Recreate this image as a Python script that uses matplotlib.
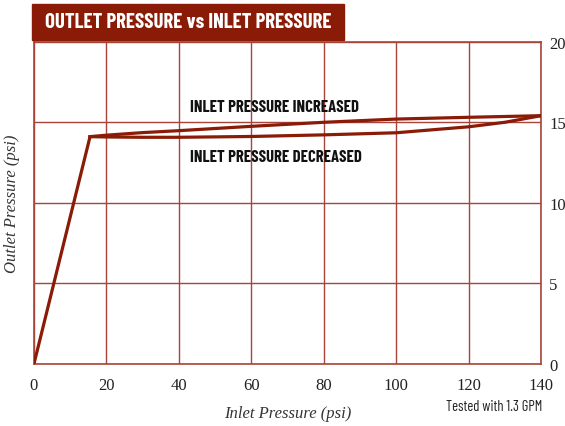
import numpy as np
import matplotlib.pyplot as plt
from matplotlib.patches import Rectangle

# data
rise_x = [0, 15.5]
rise_y = [0, 14.11]
inc_x = [15.5, 20, 30, 40, 60, 80, 100, 120, 140]
inc_y = [14.11, 14.2, 14.36, 14.48, 14.75, 15.0, 15.2, 15.31, 15.41]
dec_x = [140, 130, 120, 100, 80, 60, 40, 30, 20, 15.5]
dec_y = [15.41, 15.0, 14.72, 14.35, 14.22, 14.12, 14.07, 14.07, 14.09, 14.11]
x_ticks = [0, 20, 40, 60, 80, 100, 120, 140]
y_ticks = [0, 5, 10, 15, 20]

red = '#8a1b07'
grid_c = '#a8443a'
serif = ['Liberation Serif', 'DejaVu Serif']
narrow = ['Barlow Condensed', 'DejaVu Sans']

fig = plt.figure(figsize=(5.65, 4.27), dpi=100)
ax = fig.add_axes([0.060, 0.145, 0.8975, 0.755])

ax.plot(rise_x, rise_y, color=red, lw=2.3, solid_capstyle='butt', zorder=3)
ax.plot(inc_x, inc_y, color=red, lw=2.3, zorder=3)
ax.plot(dec_x, dec_y, color=red, lw=2.3, zorder=3)

ax.set_xlim(0, 140)
ax.set_ylim(0, 20)
ax.set_xticks(x_ticks)
ax.set_yticks(y_ticks)
ax.yaxis.tick_right()
ax.tick_params(axis='x', length=0, pad=9)
ax.tick_params(axis='y', length=0, pad=6)
for lab in ax.get_xticklabels() + ax.get_yticklabels():
    lab.set_family(serif)
    lab.set_fontsize(12)
    lab.set_color('#222222')
ax.grid(True, color=grid_c, lw=1.0)
for s in ax.spines.values():
    s.set_color(grid_c)
    s.set_linewidth(1.2)

ax.set_xlabel('Inlet Pressure (psi)', family=serif, style='italic', fontsize=12,
              color='#333333', labelpad=9)
ax.set_ylabel('Outlet Pressure (psi)', family=serif, style='italic', fontsize=12,
              color='#333333', labelpad=10)

ax.text(43.1, 16.0, 'INLET PRESSURE INCREASED', family=narrow, weight='bold',
        stretch='condensed', fontsize=12, va='center', ha='left', color='#111111')
ax.text(43.1, 12.9, 'INLET PRESSURE DECREASED', family=narrow, weight='bold',
        stretch='condensed', fontsize=12, va='center', ha='left', color='#111111')

# title banner
fig.patches.append(Rectangle((32 / 565, 1 - 41 / 427), 312 / 565, 36 / 427,
                             transform=fig.transFigure, color=red, zorder=5))
fig.text(188 / 565, 1 - 23 / 427, 'OUTLET PRESSURE vs INLET PRESSURE', family=narrow,
         weight='bold', stretch='condensed', fontsize=15, color='white',
         ha='center', va='center', zorder=6)

fig.text(494 / 565, 1 - 407 / 427, 'Tested with 1.3 GPM', family=narrow,
         stretch='condensed', fontsize=10.5, color='#222222', ha='center', va='center')

fig.savefig('out.png', dpi=100)
